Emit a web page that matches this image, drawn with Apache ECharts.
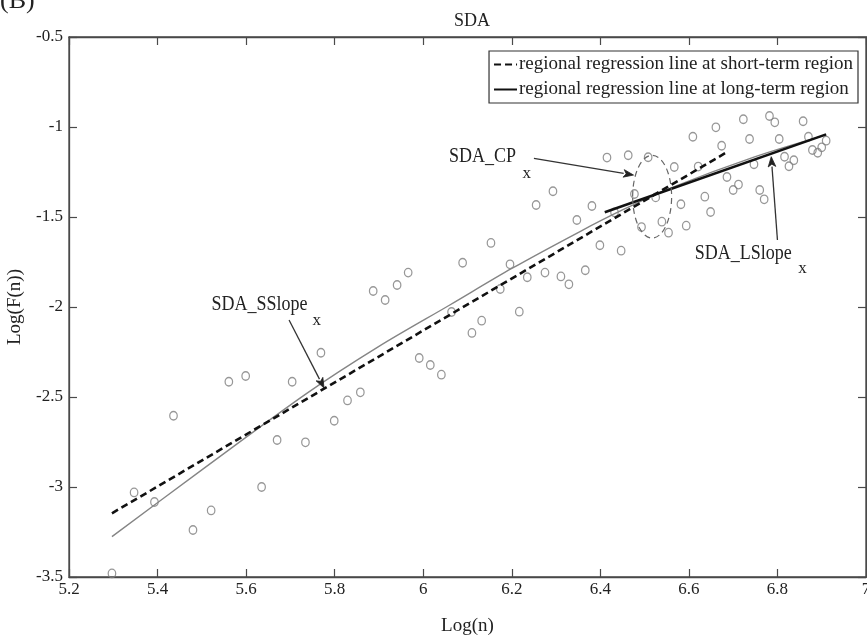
<!DOCTYPE html>
<html>
<head>
<meta charset="utf-8">
<script src="https://cdn.jsdelivr.net/npm/echarts@6/dist/echarts.min.js"></script>
<style>
html,body{margin:0;padding:0;background:#fff;}
#chart{width:867px;height:639px;}
</style>
</head>
<body>
<div id="chart"></div>
<script>
// ---- data ----
const xTicks = [5.2, 5.4, 5.6, 5.8, 6, 6.2, 6.4, 6.6, 6.8, 7];
const yTicks = [-3.5, -3, -2.5, -2, -1.5, -1, -0.5];

const logN = [5.297,5.347,5.393,5.436,5.480,5.521,5.561,5.599,5.635,5.670,5.704,5.734,5.769,5.799,5.829,5.858,5.887,5.914,5.941,5.966,
  5.991,6.016,6.041,6.064,6.089,6.110,6.132,6.153,6.174,6.196,6.217,6.235,6.255,6.275,6.293,6.311,6.329,6.347,6.366,6.381,
  6.399,6.415,6.432,6.447,6.463,6.477,6.493,6.508,6.525,6.539,6.554,6.567,6.582,6.594,6.609,6.621,6.636,6.649,6.661,6.674,
  6.686,6.700,6.712,6.723,6.737,6.747,6.760,6.770,6.782,6.794,6.804,6.816,6.826,6.837,6.858,6.870,6.879,6.891,6.900,6.910];
const logF = [-3.480,-3.030,-3.083,-2.604,-3.239,-3.130,-2.415,-2.383,-3.000,-2.739,-2.415,-2.752,-2.254,-2.632,-2.519,-2.474,-1.911,-1.961,-1.878,-1.809,
  -2.283,-2.322,-2.376,-2.028,-1.754,-2.144,-2.076,-1.644,-1.900,-1.763,-2.026,-1.835,-1.433,-1.809,-1.357,-1.830,-1.874,-1.517,-1.796,-1.439,
  -1.657,-1.170,-1.474,-1.687,-1.157,-1.372,-1.556,-1.168,-1.391,-1.526,-1.587,-1.222,-1.429,-1.548,-1.054,-1.220,-1.387,-1.472,-1.002,-1.104,
  -1.278,-1.350,-1.320,-0.957,-1.067,-1.207,-1.350,-1.402,-0.939,-0.974,-1.067,-1.165,-1.218,-1.185,-0.968,-1.054,-1.128,-1.143,-1.113,-1.076];

// overall fitted curve (thin grey)
const fitX = [5.297, 5.5, 5.737, 5.9, 6.06, 6.2, 6.353, 6.45, 6.557, 6.75, 6.91];
const fitY = [-3.276, -2.905, -2.48, -2.219, -1.989, -1.786, -1.582, -1.461, -1.341, -1.165, -1.044];

// regional regression lines
const shortX = [5.297, 6.685];
const shortY = [-3.146, -1.141];
const longX = [6.41, 6.91];
const longY = [-1.474, -1.041];

const legendNames = ['regional regression line at short-term region', 'regional regression line at long-term region'];

// annotations (data coordinates)
const annotations = [
  {text: 'SDA_SSlope', at: [5.522, -1.989], sub: [5.750, -2.075], from: [5.697, -2.072], to: [5.776, -2.45]},
  {text: 'SDA_CP', at: [6.058, -1.163], sub: [6.224, -1.26], from: [6.250, -1.174], to: [6.475, -1.267]},
  {text: 'SDA_LSlope', at: [6.613, -1.702], sub: [6.847, -1.788], from: [6.800, -1.628], to: [6.786, -1.165]}
];
const cpEllipse = {center: [6.517, -1.387], halfW: 0.044, halfH: 0.23};

// ---- chart ----
const SERIF = '"Liberation Serif", "Times New Roman", serif';
const AX = '#4a4a4a';
const zip = (a, b) => a.map((v, i) => [v, b[i]]);

const chart = echarts.init(document.getElementById('chart'), null, {renderer: 'canvas'});

const axisCommon = {
  type: 'value',
  axisLine: {show: true, onZero: false, lineStyle: {color: AX, width: 1.3}},
  axisTick: {show: true, inside: true, length: 8, lineStyle: {color: AX, width: 1.2}},
  splitLine: {show: false}
};

const option = {
  animation: false,
  backgroundColor: '#fff',
  title: {
    text: 'SDA', left: 467, top: 7, textAlign: 'center',
    textStyle: {fontFamily: SERIF, fontSize: 18, fontWeight: 'normal', color: '#222'}
  },
  grid: {left: 69, right: 1, top: 37, bottom: 62, show: false, containLabel: false, outerBoundsMode: 'none'},
  legend: {
    data: legendNames,
    orient: 'vertical',
    right: 9, top: 51,
    itemWidth: 23, itemHeight: 12, itemGap: 6,
    padding: [4, 5, 4, 4],
    borderColor: '#333', borderWidth: 1.2,
    backgroundColor: '#fff',
    itemStyle: {opacity: 0},
    textStyle: {fontFamily: SERIF, fontSize: 19, color: '#222', padding: [0, 0, 0, -3]},
    selectedMode: false
  },
  xAxis: [
    Object.assign({}, axisCommon, {
      min: xTicks[0], max: xTicks[xTicks.length - 1], interval: 0.2, position: 'bottom',
      name: 'Log(n)', nameLocation: 'middle', nameGap: 40,
      nameTextStyle: {fontFamily: SERIF, fontSize: 19, color: '#222'},
      axisLabel: {fontFamily: SERIF, fontSize: 17, color: '#222', margin: 4}
    }),
    Object.assign({}, axisCommon, {
      min: xTicks[0], max: xTicks[xTicks.length - 1], interval: 0.2, position: 'top',
      axisLabel: {show: false}
    })
  ],
  yAxis: [
    Object.assign({}, axisCommon, {
      min: yTicks[0], max: yTicks[yTicks.length - 1], interval: 0.5, position: 'left',
      name: 'Log(F(n))', nameLocation: 'middle', nameGap: 44, nameRotate: 90,
      nameTextStyle: {fontFamily: SERIF, fontSize: 19, color: '#222'},
      axisLabel: {fontFamily: SERIF, fontSize: 17, color: '#222', margin: 6}
    }),
    Object.assign({}, axisCommon, {
      min: yTicks[0], max: yTicks[yTicks.length - 1], interval: 0.5, position: 'right',
      axisLabel: {show: false}
    })
  ],
  series: [
    {
      name: 'data', type: 'scatter', data: zip(logN, logF),
      symbol: 'circle', symbolSize: [7.5, 8.5],
      itemStyle: {color: 'rgba(255,255,255,0)', borderColor: '#7d7d7d', borderWidth: 1.3},
      z: 2
    },
    {
      name: 'fit', type: 'line', data: zip(fitX, fitY), smooth: 0.3,
      symbol: 'none', lineStyle: {color: '#858585', width: 1.4}, z: 3
    },
    {
      name: legendNames[0], type: 'line', data: zip(shortX, shortY),
      symbol: 'none', itemStyle: {color: '#111'},
      lineStyle: {color: '#111', width: 2.6, type: [7, 4]}, z: 4
    },
    {
      name: legendNames[1], type: 'line', data: zip(longX, longY),
      symbol: 'none', itemStyle: {color: '#111'},
      lineStyle: {color: '#111', width: 2.6, type: 'solid'}, z: 5
    }
  ]
};
chart.setOption(option);

// ---- annotation graphics placed via the grid's own scale ----
function px(p) { return chart.convertToPixel({gridIndex: 0}, p); }
function arrow(a, b) {
  const p0 = px(a), p1 = px(b);
  const dx = p1[0] - p0[0], dy = p1[1] - p0[1];
  const L = Math.hypot(dx, dy), ux = dx / L, uy = dy / L;
  const hl = 10, hw = 3.8;
  const bx = p1[0] - ux * hl, by = p1[1] - uy * hl;
  return [
    {type: 'line', shape: {x1: p0[0], y1: p0[1], x2: bx, y2: by}, style: {stroke: '#333', lineWidth: 1.3}, z: 20},
    {type: 'polygon', shape: {points: [[p1[0], p1[1]], [bx - uy * hw, by + ux * hw], [bx + ux * 2.5, by + uy * 2.5], [bx + uy * hw, by - ux * hw]]},
      style: {fill: '#222', stroke: '#222', lineWidth: 0.8}, z: 20}
  ];
}
const g = [];
annotations.forEach(a => {
  const t = px(a.at), s = px(a.sub);
  g.push({type: 'text', x: t[0], y: t[1], z: 20, scaleY: 1.15, originY: t[1] * 0,
    style: {text: a.text, font: '18px ' + SERIF, fill: '#222', verticalAlign: 'middle'}});
  g.push({type: 'text', x: s[0], y: s[1], z: 20,
    style: {text: 'x', font: '17px ' + SERIF, fill: '#222', verticalAlign: 'middle'}});
  arrow(a.from, a.to).forEach(e => g.push(e));
});
const c = px(cpEllipse.center);
const e1 = px([cpEllipse.center[0] + cpEllipse.halfW, cpEllipse.center[1] + cpEllipse.halfH]);
g.push({type: 'ellipse', z: 19,
  shape: {cx: c[0], cy: c[1], rx: Math.abs(e1[0] - c[0]), ry: Math.abs(c[1] - e1[1])},
  style: {fill: 'none', stroke: '#666', lineWidth: 1.2, lineDash: [6, 4]}});
// frame border drawn from axis extents
const tl = px([xTicks[0], yTicks[yTicks.length - 1]]);
const br = px([xTicks[xTicks.length - 1], yTicks[0]]);
g.push({type: 'rect', z: 1, shape: {x: tl[0], y: tl[1], width: br[0] - tl[0], height: br[1] - tl[1]},
  style: {fill: 'none', stroke: AX, lineWidth: 1.3}});
g.push({type: 'text', x: 0, y: 14, z: 20,
  style: {text: '(B)', font: '26px ' + SERIF, fill: '#222', verticalAlign: 'bottom'}});
chart.setOption({graphic: g});
</script>
</body>
</html>
